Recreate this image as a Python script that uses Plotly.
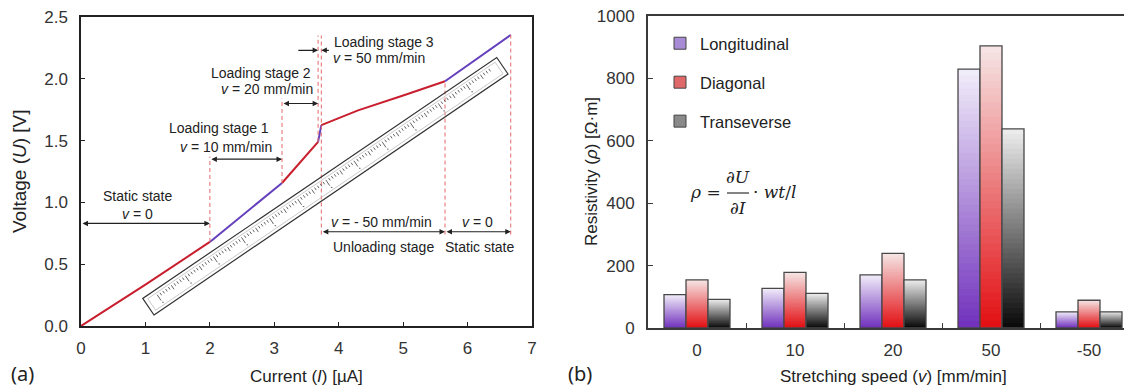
import plotly.graph_objects as go

W, H = 1132, 387

# ---------------- Panel (a): voltage vs current ----------------
current_uA = [0.0, 1.0, 2.0, 3.12, 3.68, 3.73, 4.3, 5.0, 5.65, 6.67]
voltage_V = [0.0, 0.335, 0.68, 1.157, 1.49, 1.625, 1.745, 1.865, 1.98, 2.355]
stage_bounds = [0.0, 2.0, 3.12, 3.68, 3.73, 5.65, 6.67]
x_ticks_a = [0, 1, 2, 3, 4, 5, 6, 7]
y_ticks_a = [0.0, 0.5, 1.0, 1.5, 2.0, 2.5]

# ---------------- Panel (b): resistivity vs stretching speed ----------------
speed_labels = ["0", "10", "20", "50", "-50"]
longitudinal = [107, 127, 170, 830, 52]
diagonal = [154, 178, 239, 904, 89]
transverse = [92, 111, 154, 638, 52]
y_ticks_b = [0, 200, 400, 600, 800, 1000]

FONT = "Liberation Sans"
TXT = "#222222"
OFF = 8  # page body margin of the html page


def P(px, py):
    """screen pixel -> paper coords"""
    return (px - OFF) / W, 1 - (py - OFF) / H


# plot areas in screen pixels
AX0, AX1, AY0, AY1 = 81, 532, 17, 326
BX0, BX1, BY0, BY1 = 648, 1132, 16, 328


def A(px, py):
    """screen pixel -> panel (a) data coords"""
    return (px - AX0) / (AX1 - AX0) * 7.0, (AY1 - py) / (AY1 - AY0) * 2.5


fig = go.Figure()

# ---- curve, coloured by stage ----
RED, PURPLE = "#c81e2d", "#6440bc"
for i in range(len(stage_bounds) - 1):
    lo, hi = stage_bounds[i], stage_bounds[i + 1]
    xs = [c for c in current_uA if lo <= c <= hi]
    ys = [v for c, v in zip(current_uA, voltage_V) if lo <= c <= hi]
    fig.add_trace(go.Scatter(x=xs, y=ys, mode="lines",
                             line=dict(color=RED if i % 2 == 0 else PURPLE, width=2),
                             showlegend=False, hoverinfo="skip", xaxis="x", yaxis="y"))


def v_at(c):
    return voltage_V[current_uA.index(c)]


shapes = []
DASH = dict(color="rgb(228,105,105)", width=1, dash="4px,3px")
b = stage_bounds
dash_spans = [
    (b[1], v_at(b[1]), 1.37),
    (b[2], v_at(b[2]), 1.84),
    (b[3], v_at(b[3]), 2.35),
    (b[4], 0.74, 2.35),
    (b[5], 0.74, v_at(b[5])),
    (b[6], 0.74, v_at(b[6])),
]
for x, y0, y1 in dash_spans:
    shapes.append(dict(type="line", xref="x", yref="y", x0=x, x1=x, y0=y0, y1=y1, line=DASH))

# ---- ruler decoration ----
Bp = (154, 315)
ux, uy = 354 / 428.2, -241 / 428.2      # along ruler
nx, ny = -0.5628, -0.8267               # towards upper edge
LEN, WID = 428.2, 20.0


def rp(t, s):
    return A(Bp[0] + ux * t + nx * s, Bp[1] + uy * t + ny * s)


def rect_path(t0, t1, s0, s1):
    pts = [rp(t0, s0), rp(t1, s0), rp(t1, s1), rp(t0, s1)]
    return "M" + " L".join(f"{x:.4f},{y:.4f}" for x, y in pts) + " Z"


shapes.append(dict(type="path", xref="x", yref="y", path=rect_path(0, LEN, 0, WID),
                   line=dict(color="#333333", width=1.2), fillcolor="rgba(255,255,255,0)"))
shapes.append(dict(type="path", xref="x", yref="y", path=rect_path(4, LEN - 4, 3, WID - 3),
                   line=dict(color="#bbbbbb", width=0.8), fillcolor="rgba(0,0,0,0)"))
tick_path = ""
t = 14.0
n = 0
while t < LEN - 12:
    L = 7 if n % 10 == 0 else (5 if n % 5 == 0 else 3)
    x0, y0 = rp(t, WID - 5)
    x1, y1 = rp(t, WID - 5 - L)
    tick_path += f"M{x0:.4f},{y0:.4f} L{x1:.4f},{y1:.4f} "
    if n % 10 == 0:
        xd0, yd0 = rp(t, WID - 14)
        xd1, yd1 = rp(t + 1.2, WID - 15)
        tick_path += f"M{xd0:.4f},{yd0:.4f} L{xd1:.4f},{yd1:.4f} "
    t += 3.4
    n += 1
shapes.append(dict(type="path", xref="x", yref="y", path=tick_path,
                   line=dict(color="#555555", width=0.9)))

annotations = []

# ---- stage arrows ----
ARROW = dict(showarrow=True, arrowcolor="#222222", arrowwidth=1.1, arrowhead=2,
             arrowsize=1.0, startarrowhead=2, startarrowsize=1.0,
             axref="x", ayref="y", xref="x", yref="y", text="", standoff=0, startstandoff=0)
arrows = [
    (b[0], b[1], 0.83),
    (b[1], b[2], 1.35),
    (b[2], b[3], 1.80),
    (b[4], b[5], 0.763),
    (b[5], b[6], 0.763),
]
for xa, xb, yy in arrows:
    annotations.append(dict(x=xb, y=yy, ax=xa, ay=yy, arrowside="end+start", **ARROW))
annotations.append(dict(x=b[3], y=2.23, ax=3.35, ay=2.23, arrowside="end", **ARROW))
annotations.append(dict(x=b[4], y=2.23, ax=3.87, ay=2.23, arrowside="end", **ARROW))

# ---- stage labels ----
stage_text = [
    ("Static state", 0.87, 1.05), ("<i>v</i> = 0", 0.87, 0.91),
    ("Loading stage 1", 2.14, 1.60), ("<i>v</i> = 10 mm/min", 2.25, 1.45),
    ("Loading stage 2", 2.79, 2.05), ("<i>v</i> = 20 mm/min", 2.89, 1.92),
    ("Loading stage 3", 4.71, 2.30), ("<i>v</i> = 50 mm/min", 4.62, 2.17),
    ("<i>v</i> = - 50 mm/min", 4.67, 0.845), ("Unloading stage", 4.70, 0.64),
    ("<i>v</i> = 0", 6.16, 0.845), ("Static state", 6.19, 0.64),
]
for txt, x, y in stage_text:
    annotations.append(dict(text=txt, x=x, y=y, xref="x", yref="y", showarrow=False,
                            xanchor="center", yanchor="middle",
                            font=dict(family=FONT, size=14, color=TXT)))

# ---- gradient bars ----
K = 40
BW = 0.2245
series = [
    ("Longitudinal", longitudinal, (242, 238, 250), (112, 48, 188), -1.5 * BW, "#a88bd6"),
    ("Diagonal", diagonal, (246, 230, 230), (226, 14, 18), -0.5 * BW, "#e06868"),
    ("Transeverse", transverse, (238, 238, 238), (8, 8, 8), 0.5 * BW, "#8a8a8a"),
]


def mix(c0, c1, t):
    return "rgb(%d,%d,%d)" % tuple(round(a + (bb - a) * t) for a, bb in zip(c0, c1))


for name, vals, top, bot, off, mid in series:
    for k in range(K):
        f = 1 - k / K
        tpos = 1 - (k + 0.5) / K
        fig.add_trace(go.Bar(x=speed_labels, y=[v * f for v in vals], width=BW, offset=off,
                             marker=dict(color=mix(bot, top, tpos), line=dict(width=0)),
                             showlegend=False, hoverinfo="skip", xaxis="x2", yaxis="y2"))
    fig.add_trace(go.Bar(x=speed_labels, y=vals, width=BW, offset=off,
                         marker=dict(color="rgba(0,0,0,0)", line=dict(color="#484848", width=1.3)),
                         showlegend=False, hoverinfo="skip", xaxis="x2", yaxis="y2"))
for name, vals, top, bot, off, mid in series:
    fig.add_trace(go.Bar(x=[speed_labels[0]], y=[None], name=name, legendgroup=name,
                         marker=dict(color=mid, line=dict(color="#444444", width=1)),
                         xaxis="x2", yaxis="y2"))

# ---- formula ----
FF = dict(family="DejaVu Serif", size=17, color=TXT)
fx, fy = P(723, 192)
annotations.append(dict(text="<i>ρ</i> =", x=fx, y=fy, xref="paper", yref="paper", showarrow=False,
                        xanchor="right", yanchor="middle", font=FF))
fx, fy = P(738, 177)
annotations.append(dict(text="∂<i>U</i>", x=fx, y=fy, xref="paper", yref="paper", showarrow=False,
                        xanchor="center", yanchor="middle", font=FF))
fx, fy = P(738, 208)
annotations.append(dict(text="∂<i>I</i>", x=fx, y=fy, xref="paper", yref="paper", showarrow=False,
                        xanchor="center", yanchor="middle", font=FF))
fx, fy = P(751, 192)
annotations.append(dict(text="· <i>wt</i>/<i>l</i>", x=fx, y=fy, xref="paper", yref="paper",
                        showarrow=False, xanchor="left", yanchor="middle", font=FF))
lx0, ly = P(727, 193)
lx1, _ = P(749, 193)
shapes.append(dict(type="line", xref="paper", yref="paper", x0=lx0, x1=lx1, y0=ly, y1=ly,
                   line=dict(color="#333333", width=1.2)))

# ---- axis titles & panel labels ----
for txt, px, py, ang, size, fam, xa in [
    ("Current (<i>I</i>) [µA]", 306, 376, 0, 17, FONT, "center"),
    ("Voltage (<i>U</i>) [V]", 20, 171, -90, 19, FONT, "center"),
    ("Stretching speed (<i>v</i>) [mm/min]", 893, 376, 0, 17, FONT, "center"),
    ("Resistivity (<i>ρ</i>) [Ω·m]", 591, 172, -90, 17, FONT, "center"),
    ("(a)", 9, 373, 0, 20, "Noto Sans", "left"),
    ("(b)", 580, 373, 0, 20, "Noto Sans", "center"),
]:
    x, y = P(px, py)
    annotations.append(dict(text=txt, x=x, y=y, xref="paper", yref="paper", showarrow=False,
                            xanchor=xa, yanchor="middle",
                            textangle=ang, font=dict(family=fam, size=size, color=TXT)))

axis_common = dict(showline=True, ticks="inside", showgrid=False, zeroline=False,
                   ticklabeloverflow="allow",
                   tickfont=dict(family=FONT, size=17, color="#333333"))

fig.update_layout(
    width=W, height=H,
    margin=dict(l=0, r=0, t=0, b=0, autoexpand=False),
    paper_bgcolor="white", plot_bgcolor="white",
    template="none",
    barmode="overlay",
    font=dict(family=FONT, color=TXT),
    xaxis=dict(domain=[P(AX0, 0)[0], P(AX1, 0)[0]], range=[0, 7], tickvals=x_ticks_a, mirror=True,
               linecolor="#222222", linewidth=1.5, ticklen=4, tickcolor="#222222",
               ticklabelstandoff=6, anchor="y", **axis_common),
    yaxis=dict(domain=[P(0, AY1)[1], P(0, AY0)[1]], range=[0, 2.5], tickvals=y_ticks_a,
               tickformat=".1f", mirror=True, linecolor="#222222", linewidth=1.5, ticklen=4,
               tickcolor="#222222", ticklabelstandoff=8, anchor="x", **axis_common),
    xaxis2=dict(domain=[P(BX0, 0)[0], P(BX1, 0)[0]], type="category", range=[-0.5, 4.5 - 6 / 98],
                tickson="boundaries", mirror=True, linecolor="#3a3a3a", linewidth=1.8, ticklen=5,
                tickcolor="#3a3a3a", ticklabelstandoff=6, anchor="y2", **axis_common),
    yaxis2=dict(domain=[P(0, BY1)[1], P(0, BY0)[1]], range=[0, 1000], tickvals=y_ticks_b,
                mirror=False, linecolor="#3a3a3a", linewidth=1.8, ticklen=5, tickcolor="#3a3a3a",
                ticklabelstandoff=8, anchor="x2", **axis_common),
    showlegend=True,
    legend=dict(x=P(660, 0)[0], y=P(0, 26)[1], xanchor="left", yanchor="top",
                font=dict(family=FONT, size=16.5, color=TXT), bgcolor="rgba(0,0,0,0)",
                traceorder="grouped", tracegroupgap=14.5),
    shapes=shapes,
    annotations=annotations,
)

fig.write_html("out.html")
